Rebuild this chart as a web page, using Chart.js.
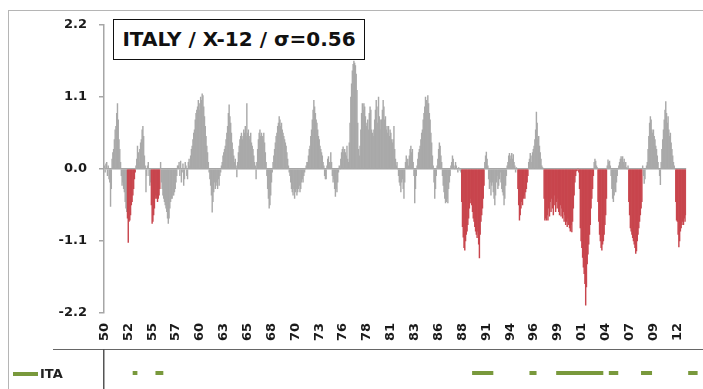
<!DOCTYPE html>
<html><head><meta charset="utf-8">
<script src="https://cdn.jsdelivr.net/npm/chart.js@4.4.1/dist/chart.umd.min.js"></script>
<style>
html,body{margin:0;padding:0;background:#fff;}
#wrap{position:relative;width:703px;height:389px;overflow:hidden;font-family:"DejaVu Sans",sans-serif;}
#frame{position:absolute;left:8px;top:10px;width:720px;height:400px;border-left:1px solid #b5b5b5;border-top:1px solid #b5b5b5;}
#main{position:absolute;left:0;top:0;}
#strip{position:absolute;left:0;top:349px;}
#hline{position:absolute;left:53px;top:349px;width:660px;height:0;border-top:1px solid #666;}
#title{position:absolute;left:113px;top:19px;width:252px;height:41px;border:1.5px solid #111;box-sizing:border-box;font-weight:bold;font-size:20px;line-height:38px;text-align:center;color:#111;background:#fff;white-space:nowrap;}
#legend{position:absolute;left:13px;top:366px;font-weight:bold;font-size:13px;line-height:16px;color:#222;white-space:nowrap;}
#legend .sw{display:inline-block;width:25px;height:4px;background:#79993c;vertical-align:middle;margin-right:2px;position:relative;top:-1px;}
</style></head>
<body>
<div id="wrap">
  <div id="frame"></div>
  <canvas id="main" width="703" height="389"></canvas>
  <div id="hline"></div>
  <canvas id="strip" width="703" height="40"></canvas>
  <div id="title">ITALY / X-12 / σ=0.56</div>
  <div id="legend"><span class="sw"></span>ITA</div>
</div>
<script>
const startYear = 1950;
const values = [
/*1950*/ 0.05,-0.05,0.08,0.1,-0.1,0.05,-0.15,-0.2,-0.57,-0.3,0.15,0.25,
/*1951*/ 0.3,0.45,0.6,0.65,0.85,1.0,0.75,0.45,0.3,0.1,-0.1,-0.25,
/*1952*/ -0.2,-0.3,-0.35,-0.5,-0.6,-0.65,-0.75,-1.12,-0.8,-0.78,-0.7,-0.55,
/*1953*/ -0.5,-0.4,-0.3,-0.15,-0.05,0.05,0.15,0.35,0.25,0.1,0.3,0.4,
/*1954*/ 0.45,0.6,0.65,0.5,0.2,0.05,-0.35,-0.1,0.05,0.1,-0.1,-0.25,
/*1955*/ -0.2,-0.55,-0.83,-0.8,-0.7,-0.6,-0.45,-0.4,-0.45,-0.5,-0.45,-0.4,
/*1956*/ -0.3,0.1,-0.2,-0.3,-0.4,-0.45,-0.5,-0.55,-0.6,-0.65,-0.75,-0.83,
/*1957*/ -0.75,-0.6,-0.5,-0.45,-0.45,-0.4,-0.4,-0.35,-0.3,-0.2,-0.1,0.05,
/*1958*/ 0.05,0.1,-0.1,0.12,-0.2,-0.05,0.08,-0.25,-0.15,0.1,0.05,-0.1,
/*1959*/ -0.15,0.1,0.15,0.05,0.2,0.3,0.35,0.45,0.55,0.6,0.75,0.85,
/*1960*/ 0.9,0.95,1.05,0.9,1.0,1.1,1.05,1.15,1.12,0.95,0.8,0.65,
/*1961*/ 0.5,0.35,0.25,0.1,-0.05,-0.15,-0.25,-0.4,-0.66,-0.5,-0.35,-0.2,
/*1962*/ -0.3,-0.25,-0.2,-0.3,-0.15,-0.25,-0.1,-0.05,0.05,0.1,0.2,0.25,
/*1963*/ 0.3,0.35,0.45,0.55,0.65,0.85,0.98,0.8,0.7,0.55,0.4,0.3,
/*1964*/ 0.2,0.1,0.15,0.05,-0.12,0.1,0.25,0.35,0.45,0.5,0.55,0.45,
/*1965*/ 0.5,0.6,0.55,0.65,0.5,1.0,0.55,0.6,0.5,0.45,0.55,0.4,
/*1966*/ 0.35,0.3,0.2,0.1,0.05,-0.15,0.1,0.3,0.45,0.55,0.6,0.5,
/*1967*/ 0.55,0.5,0.45,0.55,0.4,0.25,0.1,-0.1,-0.3,-0.45,-0.6,-0.55,
/*1968*/ -0.4,-0.2,-0.05,0.1,0.2,0.3,0.4,0.5,0.55,0.65,0.7,0.8,
/*1969*/ 0.75,0.65,0.7,0.6,0.55,0.5,0.45,0.4,0.35,0.25,0.15,0.05,
/*1970*/ -0.05,-0.1,-0.2,-0.3,-0.35,-0.4,-0.3,-0.45,-0.35,-0.3,-0.4,-0.35,
/*1971*/ -0.3,-0.25,-0.35,-0.3,-0.2,-0.15,-0.2,-0.1,-0.05,0.0,0.05,0.1,
/*1972*/ 0.1,0.2,0.3,0.35,0.5,0.6,0.75,0.9,1.05,0.95,0.85,0.75,
/*1973*/ 0.7,0.6,0.5,0.45,0.35,0.3,0.25,0.2,0.1,0.05,-0.1,-0.15,
/*1974*/ -0.15,0.05,0.15,0.19,0.1,0.05,0.25,0.1,-0.1,-0.2,-0.15,-0.3,
/*1975*/ -0.42,-0.3,-0.35,-0.2,-0.05,0.05,0.0,0.15,0.25,0.3,0.34,0.25,
/*1976*/ 0.3,0.25,0.2,0.35,0.15,0.1,0.4,0.7,1.1,1.3,1.5,1.6,
/*1977*/ 1.65,1.62,1.58,1.45,1.2,0.7,0.3,0.2,0.35,0.6,0.85,1.0,
/*1978*/ 0.9,1.0,0.95,0.8,0.65,0.7,0.75,0.6,0.85,0.95,0.9,0.6,
/*1979*/ 0.55,0.5,0.6,0.75,0.9,1.05,0.95,0.7,1.1,0.8,0.6,0.75,
/*1980*/ 0.75,0.9,1.05,0.95,0.75,0.8,0.6,0.65,0.55,0.65,0.5,0.6,
/*1981*/ 0.55,0.45,0.4,0.45,0.65,0.3,0.15,0.05,0.1,0.0,-0.1,-0.2,
/*1982*/ -0.25,-0.35,-0.2,-0.15,-0.3,-0.45,-0.2,0.1,0.2,0.1,0.15,0.05,
/*1983*/ 0.2,0.3,0.35,0.25,0.3,0.1,-0.1,-0.52,-0.3,-0.1,0.05,0.15,
/*1984*/ 0.25,0.3,0.35,0.45,0.55,0.6,0.75,0.85,0.95,1.1,1.05,1.0,
/*1985*/ 1.12,1.0,0.85,0.75,0.55,0.4,0.2,0.05,-0.2,-0.45,-0.3,-0.1,
/*1986*/ 0.05,0.15,0.3,0.4,0.35,0.2,0.1,-0.1,-0.25,-0.35,-0.45,-0.52,
/*1987*/ -0.5,-0.45,-0.52,-0.3,-0.2,-0.1,0.05,0.1,0.2,0.15,0.05,0.0,
/*1988*/ 0.1,0.05,0.0,-0.05,0.02,0.0,-0.02,-0.05,-0.5,-0.88,-1.04,-1.2,
/*1989*/ -1.24,-1.1,-1.0,-0.95,-0.85,-0.75,-0.6,-0.52,-0.45,-0.55,-0.65,-0.75,
/*1990*/ -0.8,-0.88,-0.95,-1.0,-1.05,-0.95,-1.15,-1.36,-1.0,-0.8,-0.7,-0.6,
/*1991*/ -0.45,-0.25,0.1,0.2,0.26,0.15,0.05,-0.15,-0.3,-0.2,-0.4,-0.25,
/*1992*/ -0.2,-0.35,-0.45,-0.55,-0.4,-0.2,-0.1,-0.3,-0.25,-0.15,-0.05,-0.2,
/*1993*/ -0.3,-0.35,-0.4,-0.55,-0.45,-0.25,-0.1,0.05,0.1,0.2,0.24,0.15,
/*1994*/ 0.2,0.24,0.15,0.22,0.1,0.05,-0.05,0.02,0.0,-0.3,-0.55,-0.78,
/*1995*/ -0.7,-0.6,-0.5,-0.55,-0.45,-0.4,-0.45,-0.35,-0.3,-0.2,-0.1,0.1,
/*1996*/ 0.15,0.24,0.2,0.1,0.25,0.3,0.35,0.45,0.6,0.87,0.7,0.45,
/*1997*/ 0.5,0.35,0.25,0.15,0.05,0.02,0.0,-0.45,-0.78,-0.75,-0.78,-0.7,
/*1998*/ -0.78,-0.6,-0.72,-0.5,-0.65,-0.45,-0.6,-0.7,-0.4,-0.55,-0.65,-0.5,
/*1999*/ -0.6,-0.45,-0.65,-0.7,-0.55,-0.72,-0.6,-0.75,-0.65,-0.8,-0.7,-0.85,
/*2000*/ -0.8,-0.88,-0.75,-0.85,-0.9,-0.95,-0.85,-0.96,-0.8,-0.6,-0.4,-0.2,
/*2001*/ -0.1,-0.03,-0.02,0.0,-0.05,-0.3,-0.9,-1.1,-1.2,-1.35,-1.5,-1.6,
/*2002*/ -1.75,-2.08,-1.8,-1.45,-1.3,-1.15,-1.0,-0.85,-0.6,-0.45,-0.3,-0.1,
/*2003*/ 0.1,0.15,0.12,0.05,0.02,-0.5,-0.8,-1.0,-1.1,-1.2,-1.24,-1.15,
/*2004*/ -1.1,-1.0,-0.85,-0.7,-0.45,0.05,0.14,0.1,0.12,0.05,-0.1,-0.3,
/*2005*/ -0.45,-0.5,-0.4,-0.3,-0.35,-0.2,-0.1,0.0,0.05,0.1,0.15,0.19,
/*2006*/ 0.15,0.19,0.1,0.15,0.05,0.1,0.02,0.0,0.05,-0.5,-0.7,-0.9,
/*2007*/ -0.95,-1.0,-1.05,-1.1,-1.15,-1.2,-1.29,-1.25,-1.1,-1.0,-0.9,-0.8,
/*2008*/ -0.7,-0.6,-0.5,0.05,-0.1,-0.22,-0.15,0.0,0.05,0.1,0.3,0.5,
/*2009*/ 0.7,0.8,0.75,0.6,0.55,0.6,0.5,0.45,0.35,0.3,0.2,0.1,
/*2010*/ 0.0,-0.1,-0.24,0.1,0.3,0.45,0.6,0.75,0.9,1.03,0.85,0.7,
/*2011*/ 0.8,0.6,0.5,0.55,0.4,0.3,0.2,0.1,0.05,0.0,-0.5,-0.78,
/*2012*/ -0.8,-1.0,-1.19,-1.1,-0.95,-0.9,-0.85,-0.8,-0.85,-0.75,-0.8,-0.7
];
// recession periods (month indices from Jan 1950, inclusive) shown as red bars
const recessions = [[30,40],[61,72],[464,493],[537,550],[571,635],[641,652],[681,698],[742,755]];
// periods marked by the green ITA strip
const stripPeriods = [[36,42],[65,75],[468,495],[541,550],[575,635],[642,654],[683,698],[743,755]];
const tickLabels = ['50','52','55','57','60','63','65','68','70','73','76','78','81','83','86','88','91','94','96','99','01','04','07','09','12'];
const tickEvery = 31;
const yTicks = [-2.2,-1.1,0,1.1,2.2];

const months = values.map((v,i)=> (startYear+Math.floor(i/12)) + '-' + String(i%12+1).padStart(2,'0'));
const inPeriod = (i, list) => list.some(p => i>=p[0] && i<=p[1]);
const GRAY='#a9a9a9', RED='#c8454d', GREEN='#79993c', AXIS='#a6a6a6';
const barColors = values.map((v,i)=> inPeriod(i,recessions) ? RED : GRAY);
const tickFont = {family:'DejaVu Sans', weight:'bold', size:13};

new Chart(document.getElementById('main'), {
  type:'bar',
  data:{labels:months, datasets:[{data:values, backgroundColor:barColors, borderWidth:0, barPercentage:1, categoryPercentage:1}]},
  options:{
    responsive:false, animation:false, devicePixelRatio:1,
    layout:{padding:{top:25,left:0,right:5,bottom:40}},
    plugins:{legend:{display:false}, tooltip:{enabled:false}},
    scales:{
      x:{type:'category', offset:true,
        grid:{display:false, drawTicks:false}, border:{display:false},
        afterBuildTicks: s => { s.ticks = s.ticks.filter((t,i)=> i % tickEvery === 0); },
        afterFit: s => { s.height = 36; },
        ticks:{autoSkip:false, minRotation:90, maxRotation:90, padding:10, color:'#1a1a1a', font:tickFont,
          callback:(v,i)=> tickLabels[i] !== undefined ? tickLabels[i] : ''}
      },
      y:{min:-2.2, max:2.2,
        afterBuildTicks: s => { s.ticks = yTicks.map(v=>({value:v})); },
        afterFit: s => { s.width = 104; },
        grid:{color: c => (c.tick && c.tick.value===0) ? AXIS : 'rgba(0,0,0,0)', tickColor:AXIS, tickLength:5, lineWidth:1.5},
        border:{display:true, color:AXIS, width:1.5},
        ticks:{padding:12, color:'#1a1a1a', font:tickFont, callback: v => Number(v).toFixed(1)}
      }
    }
  }
});

const stripData = values.map((v,i)=> inPeriod(i, stripPeriods) ? 0 : null);
new Chart(document.getElementById('strip'), {
  type:'line',
  data:{labels:months, datasets:[{data:stripData, borderColor:GREEN, borderWidth:4, pointRadius:0, spanGaps:false, borderCapStyle:'butt', tension:0}]},
  options:{
    responsive:false, animation:false, devicePixelRatio:1,
    layout:{padding:{top:0,left:0,right:5,bottom:0}},
    plugins:{legend:{display:false}, tooltip:{enabled:false}},
    scales:{
      x:{display:false, offset:true},
      y:{min:-0.8, max:1.2, afterFit: s => { s.width = 104; },
        grid:{display:false, drawTicks:false}, border:{display:true, color:'#555', width:1.5},
        ticks:{display:false}}
    }
  }
});
</script>
</body></html>
